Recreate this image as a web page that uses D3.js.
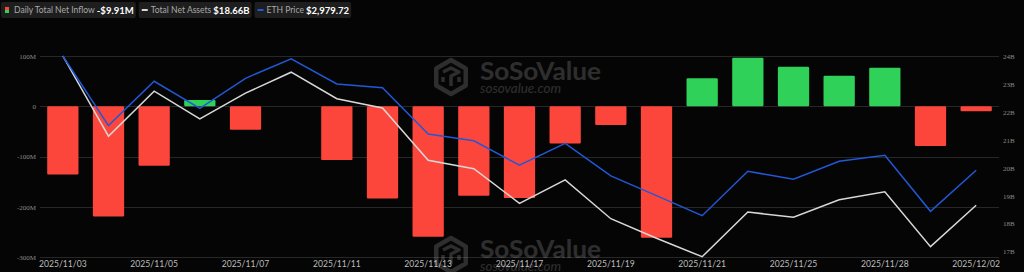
<!DOCTYPE html>
<html>
<head>
<meta charset="utf-8">
<script src="https://cdn.jsdelivr.net/npm/d3@7"></script>
<style>
  html, body { margin: 0; padding: 0; background: #050505; }
  svg { display: block; }
</style>
</head>
<body>
<svg id="chart" width="1024" height="272"></svg>
<script>
// ---- data ----
const dates = ["2025/11/03","2025/11/04","2025/11/05","2025/11/06","2025/11/07","2025/11/10","2025/11/11","2025/11/12","2025/11/13","2025/11/14","2025/11/17","2025/11/18","2025/11/19","2025/11/20","2025/11/21","2025/11/24","2025/11/25","2025/11/26","2025/11/28","2025/12/01","2025/12/02"];
const netInflow = [-135.8, -219.4, -118.5, 12.5, -46.6, 0, -107.2, -183.7, -259.7, -177.9, -182.8, -74.2, -37.4, -261.6, 55.7, 96.7, 78.6, 60.8, 76.5, -79.0, -9.91]; // $M
const netAssets = [24.0, 21.13, 22.74, 21.75, 22.67, 23.42, 22.47, 22.14, 20.27, 19.97, 18.73, 19.57, 18.18, 17.48, 16.82, 18.42, 18.23, 18.86, 19.14, 17.18, 18.66]; // $B
const ethPrice = [3600, 3222, 3463, 3316, 3479, 3585, 3448, 3428, 3177, 3140, 3007, 3126, 2949, 2842, 2733, 2974, 2931, 3029, 3061, 2757, 2979.72];
const leftTicks = [-300, -200, -100, 0, 100];
const rightTicks = [17, 18, 19, 20, 21, 22, 23, 24];
const xTickLabels = ["2025/11/03","2025/11/05","2025/11/07","2025/11/11","2025/11/13","2025/11/17","2025/11/19","2025/11/21","2025/11/25","2025/11/28","2025/12/02"];

// ---- layout ----
const svg = d3.select("#chart");
const L = 40, R = 999, T = 56, B = 257;
const RED = "#fd463b", GREEN = "#2fd158", BLUE = "#2158d6", WHITE = "#d8d8d8";

svg.append("rect").attr("width", 1024).attr("height", 272).attr("fill", "#050505");

const x = d3.scaleBand().domain(dates).range([L, R]);
const yL = d3.scaleLinear().domain([-300, 100]).range([B, T]);
const yR = d3.scaleLinear().domain([16.81, 24]).range([B, T]);
const yP = d3.scaleLinear().domain([2509, 3600]).range([B, T]);
const cx = d => x(d) + x.bandwidth() / 2;

// grid
svg.append("g").selectAll("line").data(leftTicks).join("line")
  .attr("x1", L).attr("x2", R)
  .attr("y1", d => Math.round(yL(d)) + 0.5).attr("y2", d => Math.round(yL(d)) + 0.5)
  .attr("stroke", "#272727").attr("stroke-width", 1);

// left axis
const gl = svg.append("g").attr("transform", `translate(${L},0)`)
  .call(d3.axisLeft(yL).tickValues(leftTicks).tickSize(0).tickPadding(4)
    .tickFormat(d => d === 0 ? "0" : d + "M"));
gl.select(".domain").remove();
gl.selectAll("text").attr("fill", "#8a8a8a").style("font-family", "'Liberation Serif', serif").style("font-size", "7px");

// right axis
const gr = svg.append("g").attr("transform", `translate(${R},0)`)
  .call(d3.axisRight(yR).tickValues(rightTicks).tickSize(0).tickPadding(4)
    .tickFormat(d => d + "B"));
gr.select(".domain").remove();
gr.selectAll("text").attr("fill", "#8a8a8a").style("font-family", "'Liberation Serif', serif").style("font-size", "7px");

// bottom axis
const gb = svg.append("g").attr("transform", `translate(0,${B})`)
  .call(d3.axisBottom(x).tickValues(xTickLabels).tickSize(0).tickPadding(4));
gb.select(".domain").remove();
gb.selectAll("text").attr("fill", "#bdbdbd").style("font-family", "Lato, sans-serif").style("font-size", "8.6px");

// bars
const bw = x.bandwidth() * 0.685;
svg.append("g").selectAll("rect").data(dates.map((d, i) => ({ d, v: netInflow[i] })).filter(o => o.v !== 0))
  .join("rect")
  .attr("x", o => cx(o.d) - bw / 2)
  .attr("width", bw)
  .attr("y", o => Math.min(yL(o.v), yL(0)))
  .attr("height", o => Math.abs(yL(o.v) - yL(0)))
  .attr("rx", 1.2)
  .attr("fill", o => o.v >= 0 ? GREEN : RED);

// lines
const lineA = d3.line().x((d, i) => cx(dates[i])).y(d => yR(d));
svg.append("path").datum(netAssets).attr("d", lineA)
  .attr("fill", "none").attr("stroke", WHITE).attr("stroke-width", 1.5).attr("stroke-linejoin", "miter");
const lineP = d3.line().x((d, i) => cx(dates[i])).y(d => yP(d));
svg.append("path").datum(ethPrice).attr("d", lineP)
  .attr("fill", "none").attr("stroke", BLUE).attr("stroke-width", 1.5).attr("stroke-linejoin", "miter");

// watermarks
function watermark(dy) {
  const g = svg.append("g").attr("transform", `translate(0,${dy})`).attr("opacity", 0.16);
  const c = [451, 77], r = 17;
  const hex = d3.range(6).map(k => {
    const a = Math.PI / 3 * k - Math.PI / 2;
    return [c[0] + r * Math.cos(a), c[1] + r * Math.sin(a)];
  });
  g.append("path").attr("d", "M" + hex.map(p => p.join(",")).join("L") + "Z")
    .attr("fill", "none").attr("stroke", "#fff").attr("stroke-width", 4.5).attr("stroke-linejoin", "round");
  g.append("path")
    .attr("d", `M${c[0]-8},${c[1]-5} L${c[0]},${c[1]-9} L${c[0]+8},${c[1]-5} L${c[0]},${c[1]-1} L${c[0]},${c[1]+9} M${c[0]-8},${c[1]} L${c[0]-8},${c[1]+5} M${c[0]+8},${c[1]} L${c[0]+8},${c[1]+5}`)
    .attr("fill", "none").attr("stroke", "#fff").attr("stroke-width", 3.5).attr("stroke-linejoin", "round");
  g.append("text").attr("x", 480).attr("y", 80).text("SoSoValue")
    .attr("fill", "#fff").style("font-family", "Lato, sans-serif").style("font-weight", 700).style("font-size", "25px")
    .attr("textLength", 121).attr("lengthAdjust", "spacingAndGlyphs");
  g.append("text").attr("x", 480).attr("y", 93).text("sosovalue.com")
    .attr("fill", "#fff").style("font-family", "Lato, sans-serif").style("font-style", "italic").style("font-size", "14px")
    .attr("textLength", 81).attr("lengthAdjust", "spacingAndGlyphs");
}
watermark(0);
watermark(178);

// legend
const last = dates.length - 1;
const fmtM = v => (v < 0 ? "-$" : "$") + Math.abs(v).toFixed(2) + "M";
const legendItems = [
  { label: "Daily Total Net Inflow", value: fmtM(netInflow[last]), icon: "bar" },
  { label: "Total Net Assets", value: "$" + netAssets[last].toFixed(2) + "B", icon: WHITE },
  { label: "ETH Price", value: "$" + d3.format(",.2f")(ethPrice[last]), icon: BLUE }
];
// calibrate legend font sizes against the first item's measured widths
const probe = svg.append("text").style("font-family", "Lato, sans-serif").style("font-size", "10px").text(legendItems[0].label);
const labelSize = 10 * 81 / probe.node().getComputedTextLength();
probe.style("font-weight", 700).text(legendItems[0].value);
const valueSize = 10 * 37 / probe.node().getComputedTextLength();
probe.remove();

let lx = 1;
const lg = svg.append("g");
legendItems.forEach(it => {
  const g = lg.append("g");
  const bg = g.append("rect").attr("x", lx).attr("y", 2).attr("height", 16).attr("rx", 2).attr("fill", "#1e1e1e");
  let tx = lx + 3;
  if (it.icon === "bar") {
    g.append("rect").attr("x", tx + 1).attr("y", 7).attr("width", 4).attr("height", 3).attr("fill", RED);
    g.append("rect").attr("x", tx + 1).attr("y", 10).attr("width", 4).attr("height", 3).attr("fill", GREEN);
    tx += 10;
  } else {
    g.append("rect").attr("x", tx).attr("y", 9).attr("width", 6).attr("height", 2).attr("fill", it.icon);
    tx += 9;
  }
  const t1 = g.append("text").attr("x", tx).attr("y", 13).text(it.label)
    .attr("fill", "#a9a9a9").style("font-family", "Lato, sans-serif").style("font-size", labelSize + "px");
  tx += t1.node().getComputedTextLength() + 2;
  const t2 = g.append("text").attr("x", tx).attr("y", 13.5).text(it.value)
    .attr("fill", "#ffffff").style("font-family", "Lato, sans-serif").style("font-weight", 700).style("font-size", valueSize + "px");
  tx += t2.node().getComputedTextLength() + 2;
  bg.attr("width", tx - lx);
  lx = tx + 3;
});
</script>
</body>
</html>
